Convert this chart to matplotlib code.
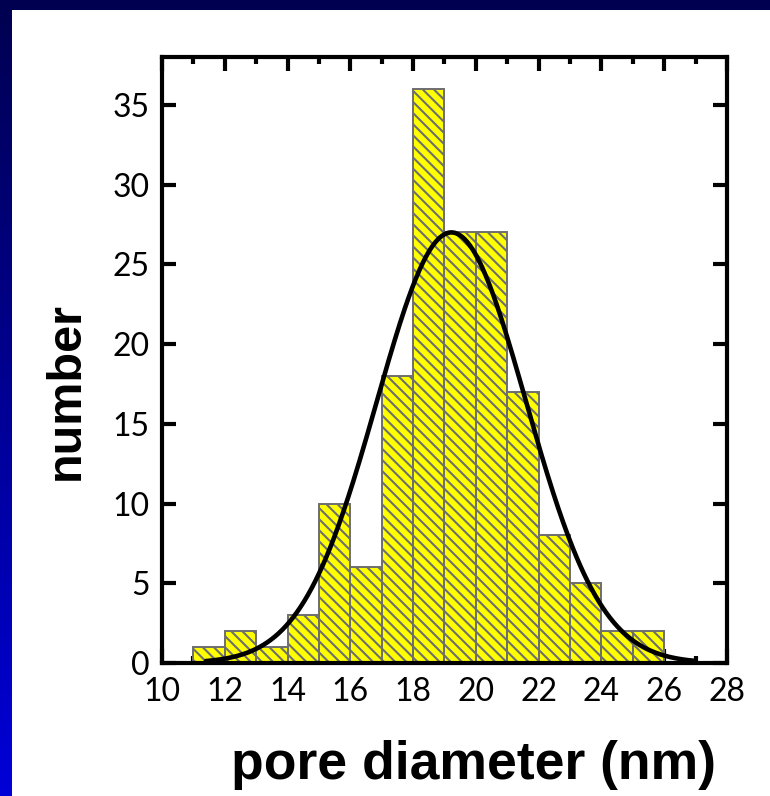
import numpy as np
import matplotlib
matplotlib.use("Agg")
import matplotlib.pyplot as plt
from matplotlib.ticker import MultipleLocator

# ---- data ----
bin_left = [11, 12, 13, 14, 15, 16, 17, 18, 19, 20, 21, 22, 23, 24, 25]
counts = [1, 2, 1, 3, 10, 6, 18, 36, 27, 27, 17, 8, 5, 2, 2]
bin_width = 1.0
fit_amp = 27.0
fit_center = 19.22
fit_sigma = 2.38
fit_range = (11.4, 27.0)
x_ticks = [10, 12, 14, 16, 18, 20, 22, 24, 26, 28]
y_ticks = [0, 5, 10, 15, 20, 25, 30, 35]
xlim = (10, 28)
ylim = (0, 38)

W, H = 770, 796
fig = plt.figure(figsize=(W / 100, H / 100), dpi=100)

# ---- slide-style background ----
bg = np.ones((H, W, 3))
navy = np.array([0, 0, 80]) / 255.0
blue = np.array([0, 0, 216]) / 255.0
band_top = 10
strip_left = 12
t = np.linspace(0, 1, H)[:, None]
grad = navy[None, :] * (1 - t) + blue[None, :] * t
bg[:, :strip_left, :] = grad[:, None, :]
bg[:band_top, :, :] = navy
bax = fig.add_axes([0, 0, 1, 1], zorder=-10)
bax.imshow(bg, aspect="auto", interpolation="nearest")
bax.set_axis_off()

# ---- main axes ----
ax = fig.add_axes([162 / W, 1 - 663 / H, (727 - 162) / W, (663 - 57) / H])
plt.rcParams["hatch.linewidth"] = 1.5
plt.rcParams["hatch.color"] = "#9a9a00"
ax.bar(bin_left, counts, width=bin_width, align="edge", color="#ffff00",
       edgecolor="#6e6e6e", linewidth=1.4, hatch="\\\\\\", zorder=2)

xf = np.linspace(fit_range[0], fit_range[1], 400)
yf = fit_amp * np.exp(-(xf - fit_center) ** 2 / (2 * fit_sigma ** 2))
ax.plot(xf, yf, color="black", linewidth=3.3, zorder=3, solid_capstyle="round")

ax.set_xlim(*xlim)
ax.set_ylim(*ylim)
ax.set_xticks(x_ticks)
ax.set_yticks(y_ticks)
ax.xaxis.set_minor_locator(MultipleLocator(1))
ax.tick_params(which="both", direction="in", top=True, right=True, width=3.0, color="black")
ax.tick_params(which="major", length=10)
ax.tick_params(which="minor", length=5)
ax.tick_params(axis="x", which="major", pad=10)
ax.tick_params(axis="y", which="major", pad=9)
for s in ax.spines.values():
    s.set_linewidth(3.0)
    s.set_zorder(5)

tick_font = dict(family="Lato", size=23)
ax.set_xticklabels([str(v) for v in x_ticks], **tick_font)
ax.set_yticklabels([str(v) for v in y_ticks], **tick_font)

fig.text(473 / W, 1 - 765 / H, "pore diameter (nm)", ha="center", va="center",
         fontsize=38.5, fontweight="bold", family="Liberation Sans")
fig.text(66 / W, 1 - 391 / H, "number", ha="center", va="center", rotation=90,
         fontsize=35, fontweight="bold", family="Liberation Sans")

fig.savefig("out.png", dpi=100)
